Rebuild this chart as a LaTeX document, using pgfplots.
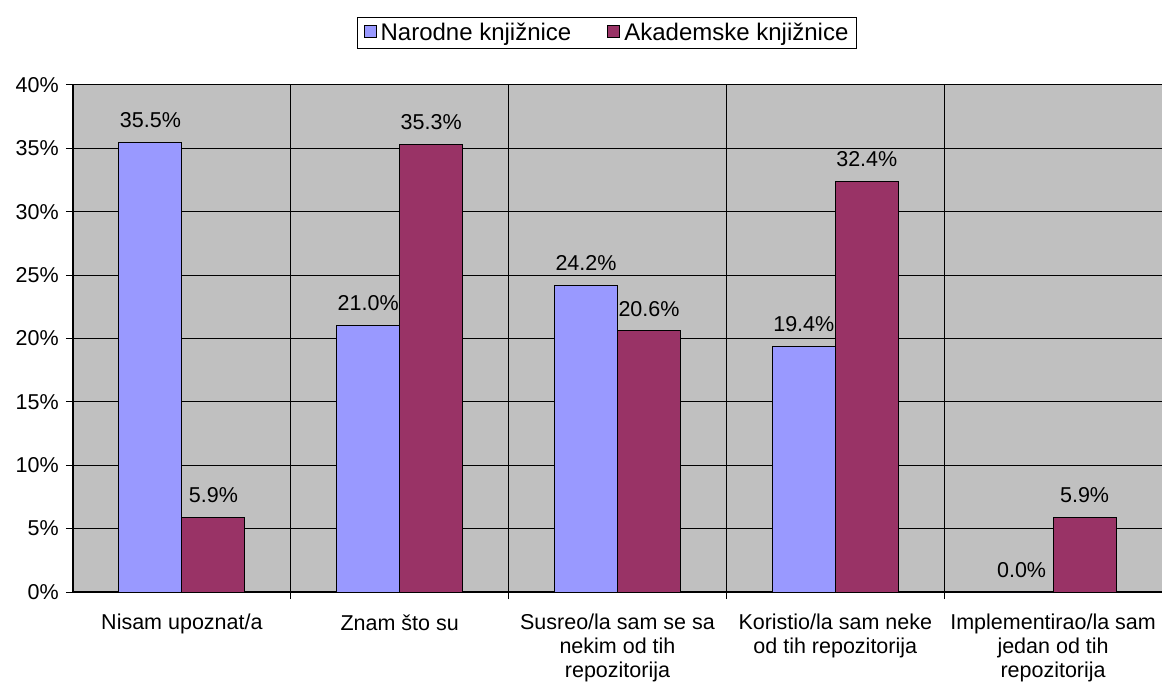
\documentclass[border=0pt]{standalone}
\usepackage{pgfplots}
\pgfplotsset{compat=1.18}
\usepackage{fontspec}
\setmainfont{Liberation Sans}
\definecolor{narod}{RGB}{153,153,255}
\definecolor{akad}{RGB}{153,51,102}
\definecolor{bg}{RGB}{192,192,192}
\begin{document}
\fontsize{21.5bp}{24bp}\selectfont
\begin{tikzpicture}
\path[use as bounding box] (-73bp,-99bp) rectangle (1089bp,592bp);
\begin{axis}[
  scale only axis,
  width=1089bp, height=507bp,
  ybar=0pt, bar width=63bp,
  xmin=-0.5, xmax=4.5, ymin=0, ymax=40,
  xtick={0,1,2,3,4},
  xticklabels={Nisam upoznat/a, Znam što su, {Susreo/la sam se sa\\nekim od tih\\repozitorija}, {Koristio/la sam neke\\od tih repozitorija}, {Implementirao/la sam\\jedan od tih\\repozitorija}},
  xticklabel style={align=center, font=\fontsize{21.5bp}{24bp}\selectfont, yshift=-8bp},
  minor xtick={0.5,1.5,2.5,3.5},
  xminorgrids,
  major x tick style={draw=none},
  minor x tick style={black, line width=1bp},
  extra x ticks={-0.5}, extra x tick labels={},
  extra x tick style={grid=none, major x tick style={black, line width=1bp}},
  ytick={0,5,...,40},
  yticklabel={\pgfmathprintnumber{\tick}\%},
  ymajorgrids,
  y tick style={black, line width=1bp},
  tick align=outside,
  major tick length=7bp, minor tick length=7bp,
  grid style={black, line width=1bp},
  minor grid style={black, line width=1bp},
  axis x line*=bottom, axis y line*=left,
  axis line style={black, line width=1.3bp, -},
  axis background/.style={fill=bg},
  /pgf/number format/assume math mode=true,
  ticklabel style={font=\fontsize{21.5bp}{24bp}\selectfont},
  nodes near coords={\pgfmathprintnumber[fixed,fixed zerofill,precision=1]{\pgfplotspointmeta}\%},
  every node near coord/.append style={font=\fontsize{21.5bp}{24bp}\selectfont, yshift=7bp},
  legend style={at={(0.4904,1.1026)}, anchor=center, draw=black, line width=1bp,
    legend columns=2, font=\fontsize{24bp}{26bp}\selectfont,
    /tikz/every even column/.append style={column sep=34bp},
    inner xsep=6bp, inner ysep=3bp},
  legend image code/.code={\draw[#1, line width=1bp] (0bp,-5bp) rectangle (12bp,7bp); \path (14bp,0bp);},
]
\addplot[fill=narod, draw=black, line width=1bp] coordinates {(0,35.5) (1,21.0) (2,24.2) (3,19.4) (4,0.0)};
\addplot[fill=akad, draw=black, line width=1bp] coordinates {(0,5.9) (1,35.3) (2,20.6) (3,32.4) (4,5.9)};
\legend{Narodne knjižnice, Akademske knjižnice}
\end{axis}
\end{tikzpicture}
\end{document}
